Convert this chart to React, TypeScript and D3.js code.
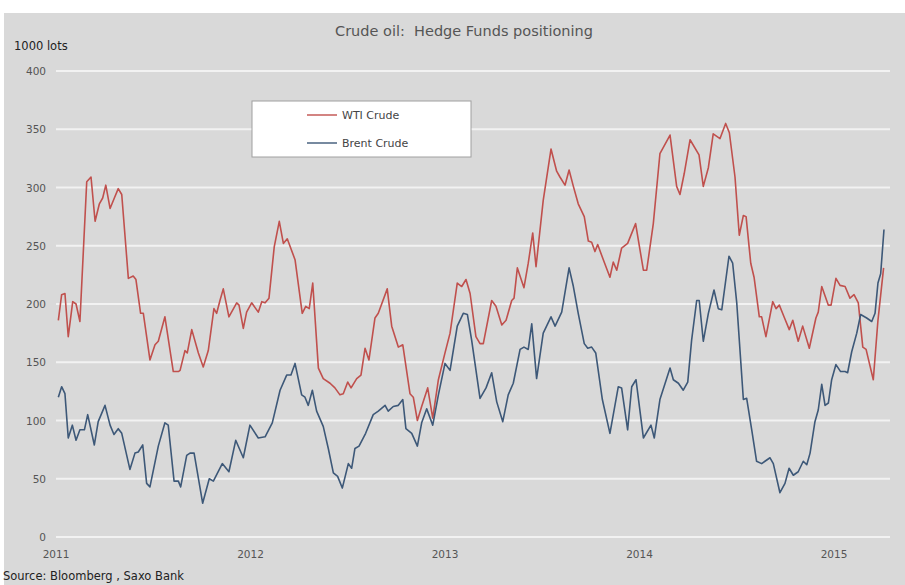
import React from "react";
import * as d3 from "d3";

const title = "Crude oil:  Hedge Funds positioning";
const unitLabel = "1000 lots";
const sourceText = "Source: Bloomberg , Saxo Bank";
const yTicks = [0, 50, 100, 150, 200, 250, 300, 350, 400];
const xTicks = [2011, 2012, 2013, 2014, 2015];
const seriesNames = ["WTI Crude", "Brent Crude"];

const wtiYears = [
  2011.012, 2011.029, 2011.046, 2011.063, 2011.086, 2011.103, 2011.123, 2011.158, 2011.18, 2011.201,
  2011.223, 2011.24, 2011.256, 2011.278, 2011.3, 2011.32, 2011.338, 2011.372, 2011.397, 2011.411,
  2011.435, 2011.449, 2011.483, 2011.509, 2011.526, 2011.56, 2011.603, 2011.629, 2011.638, 2011.663,
  2011.675, 2011.698, 2011.732, 2011.757, 2011.783, 2011.812, 2011.826, 2011.843, 2011.86, 2011.889,
  2011.929, 2011.941, 2011.963, 2011.98, 2012.006, 2012.04, 2012.058, 2012.075, 2012.095, 2012.122,
  2012.148, 2012.169, 2012.189, 2012.229, 2012.266, 2012.284, 2012.302, 2012.32, 2012.349, 2012.374,
  2012.409, 2012.434, 2012.46, 2012.477, 2012.5, 2012.517, 2012.546, 2012.568, 2012.589, 2012.609,
  2012.64, 2012.657, 2012.703, 2012.726, 2012.76, 2012.783, 2012.82, 2012.837, 2012.858, 2012.88,
  2012.911, 2012.937, 2012.966, 2013.0, 2013.026, 2013.063, 2013.086, 2013.108, 2013.129, 2013.159,
  2013.18, 2013.197, 2013.24, 2013.262, 2013.292, 2013.314, 2013.343, 2013.355, 2013.372, 2013.406,
  2013.428, 2013.451, 2013.468, 2013.505, 2013.545, 2013.574, 2013.591, 2013.617, 2013.638, 2013.66,
  2013.685, 2013.716, 2013.737, 2013.754, 2013.771, 2013.785, 2013.814, 2013.848, 2013.865, 2013.883,
  2013.908, 2013.939, 2013.98, 2014.02, 2014.037, 2014.071, 2014.105, 2014.157, 2014.191, 2014.208,
  2014.23, 2014.26, 2014.306, 2014.328, 2014.354, 2014.379, 2014.414, 2014.443, 2014.462, 2014.491,
  2014.513, 2014.534, 2014.548, 2014.572, 2014.589, 2014.616, 2014.628, 2014.65, 2014.685, 2014.702,
  2014.719, 2014.743, 2014.77, 2014.788, 2014.816, 2014.839, 2014.873, 2014.907, 2014.919, 2014.937,
  2014.971, 2014.985, 2015.01, 2015.031, 2015.057, 2015.082, 2015.103, 2015.125, 2015.148, 2015.165,
  2015.182, 2015.202, 2015.226, 2015.255,
];
const wtiValues = [
  186, 208, 209, 172, 202, 200, 185, 305, 309, 271,
  286, 291, 302, 282, 291, 299, 294, 222, 224, 221,
  192, 192, 152, 165, 168, 189, 142, 142, 143, 160,
  158, 178, 158, 146, 160, 196, 192, 203, 213, 189,
  201, 199, 179, 193, 201, 193, 202, 201, 205, 249,
  271, 252, 256, 238, 192, 198, 196, 218, 145, 136,
  132, 128, 122, 123, 133, 128, 136, 139, 162, 152,
  188, 192, 213, 181, 163, 165, 123, 120, 100, 112,
  128, 102, 135, 158, 175, 218, 215, 221, 209, 172,
  166, 166, 203, 198, 182, 186, 203, 205, 231, 214,
  235, 261, 232, 289, 333, 314, 309, 302, 315, 301,
  286, 275, 254, 253, 245, 251, 238, 223, 236, 229,
  248, 252, 269, 229, 229, 269, 329, 345, 301, 294,
  312, 341, 328, 301, 317, 346, 342, 355, 347, 309,
  259, 276, 275, 235, 223, 189, 189, 172, 202, 196,
  199, 189, 178, 186, 168, 181, 162, 188, 193, 215,
  199, 199, 222, 216, 215, 205, 208, 201, 163, 161,
  149, 135, 186, 231,
];

const brentYears = [
  2011.012, 2011.029, 2011.046, 2011.063, 2011.084, 2011.103, 2011.123, 2011.146, 2011.163, 2011.197,
  2011.217, 2011.252, 2011.278, 2011.298, 2011.32, 2011.338, 2011.38, 2011.406, 2011.423, 2011.446,
  2011.466, 2011.483, 2011.526, 2011.56, 2011.577, 2011.607, 2011.629, 2011.641, 2011.672, 2011.689,
  2011.71, 2011.754, 2011.788, 2011.809, 2011.855, 2011.889, 2011.924, 2011.963, 2011.997, 2012.04,
  2012.075, 2012.112, 2012.152, 2012.186, 2012.208, 2012.229, 2012.263, 2012.28, 2012.297, 2012.318,
  2012.34, 2012.374, 2012.4, 2012.426, 2012.448, 2012.472, 2012.503, 2012.52, 2012.537, 2012.558,
  2012.592, 2012.631, 2012.657, 2012.692, 2012.708, 2012.734, 2012.76, 2012.783, 2012.799, 2012.829,
  2012.858, 2012.88, 2012.906, 2012.937, 2012.966, 2013.0, 2013.026, 2013.063, 2013.094, 2013.115,
  2013.137, 2013.18, 2013.211, 2013.24, 2013.266, 2013.297, 2013.325, 2013.351, 2013.386, 2013.406,
  2013.428, 2013.446, 2013.471, 2013.505, 2013.545, 2013.566, 2013.6, 2013.638, 2013.66, 2013.685,
  2013.716, 2013.734, 2013.754, 2013.775, 2013.809, 2013.848, 2013.891, 2013.908, 2013.939, 2013.96,
  2013.982, 2014.02, 2014.059, 2014.076, 2014.105, 2014.157, 2014.174, 2014.2, 2014.225, 2014.248,
  2014.268, 2014.294, 2014.307, 2014.328, 2014.354, 2014.383, 2014.405, 2014.423, 2014.46, 2014.479,
  2014.5, 2014.534, 2014.551, 2014.577, 2014.602, 2014.628, 2014.645, 2014.671, 2014.688, 2014.722,
  2014.748, 2014.769, 2014.791, 2014.816, 2014.842, 2014.86, 2014.877, 2014.902, 2014.919, 2014.937,
  2014.954, 2014.971, 2014.988, 2015.01, 2015.034, 2015.057, 2015.07, 2015.091, 2015.117, 2015.137,
  2015.168, 2015.194, 2015.211, 2015.226, 2015.24, 2015.257,
];
const brentValues = [
  120, 129, 123, 85, 96, 83, 92, 92, 105, 79,
  99, 113, 96, 88, 93, 89, 58, 72, 73, 79,
  46, 43, 78, 98, 96, 48, 48, 43, 70, 72,
  72, 29, 50, 48, 63, 56, 83, 68, 96, 85,
  86, 98, 126, 139, 139, 149, 122, 120, 113, 126,
  108, 95, 76, 55, 52, 42, 63, 59, 76, 78,
  89, 105, 108, 113, 108, 112, 113, 118, 93, 89,
  78, 98, 110, 96, 122, 149, 143, 181, 192, 191,
  169, 119, 128, 141, 116, 99, 122, 132, 161, 163,
  161, 183, 136, 175, 189, 181, 193, 231, 215, 192,
  166, 162, 163, 158, 118, 89, 129, 128, 92, 129,
  135, 85, 96, 85, 118, 145, 135, 132, 126, 133,
  169, 203, 203, 168, 192, 212, 196, 195, 241, 235,
  201, 118, 119, 92, 65, 63, 65, 68, 63, 38,
  46, 59, 53, 56, 65, 62, 72, 99, 109, 131,
  113, 115, 135, 148, 142, 142, 141, 159, 175, 191,
  188, 185, 192, 218, 226, 264,
];

const W = 905;
const H = 585;

export default function App() {
  const x = d3.scaleLinear().domain([2011, 2015]).range([56, 834]);
  const y = d3.scaleLinear().domain([0, 400]).range([537, 71]);

  const wti = wtiYears.map((t, i) => [t, wtiValues[i]] as [number, number]);
  const brent = brentYears.map((t, i) => [t, brentValues[i]] as [number, number]);
  const line = d3
    .line<[number, number]>()
    .x((d) => x(d[0]))
    .y((d) => y(d[1]));

  const font = "Tahoma, 'DejaVu Sans', Verdana, sans-serif";
  const colors = ["#c0504d", "#3d5878"];

  return (
    <svg
      width={W}
      height={H}
      style={{ position: "absolute", left: 0, top: 0, display: "block" }}
      fontFamily={font}
    >
      <rect x={0} y={0} width={W} height={H} fill="#ffffff" />
      <rect x={4} y={13} width={W - 4} height={H - 13} fill="#d9d9d9" />
      <text x={464} y={36} textAnchor="middle" fontSize={14.5} fill="#555" style={{ whiteSpace: "pre" }}>
        {title}
      </text>
      <text x={14} y={50} fontSize={11.5} fill="#222">
        {unitLabel}
      </text>
      {yTicks.map((v) => (
        <g key={v}>
          <line x1={56} x2={890} y1={y(v)} y2={y(v)} stroke="#f2f2f2" strokeWidth={2} />
          <text x={46} y={y(v) + 4} textAnchor="end" fontSize={10.5} fill="#555">
            {v}
          </text>
        </g>
      ))}
      {xTicks.map((t) => (
        <text key={t} x={x(t)} y={558} textAnchor="middle" fontSize={10.5} fill="#555">
          {t}
        </text>
      ))}
      <path d={line(wti) || ""} fill="none" stroke={colors[0]} strokeWidth={1.6} strokeLinejoin="round" />
      <path d={line(brent) || ""} fill="none" stroke={colors[1]} strokeWidth={1.6} strokeLinejoin="round" />
      <g>
        <rect x={252} y={101} width={219} height={56} fill="#ffffff" stroke="#a0a0a0" strokeWidth={1} />
        {seriesNames.map((n, i) => (
          <g key={n}>
            <line x1={307} x2={337} y1={115 + i * 28} y2={115 + i * 28} stroke={colors[i]} strokeWidth={1.4} />
            <text x={342} y={119 + i * 28} fontSize={11} fill="#444">
              {n}
            </text>
          </g>
        ))}
      </g>
      <text x={3} y={580} fontSize={11.5} fill="#222">
        {sourceText}
      </text>
    </svg>
  );
}
